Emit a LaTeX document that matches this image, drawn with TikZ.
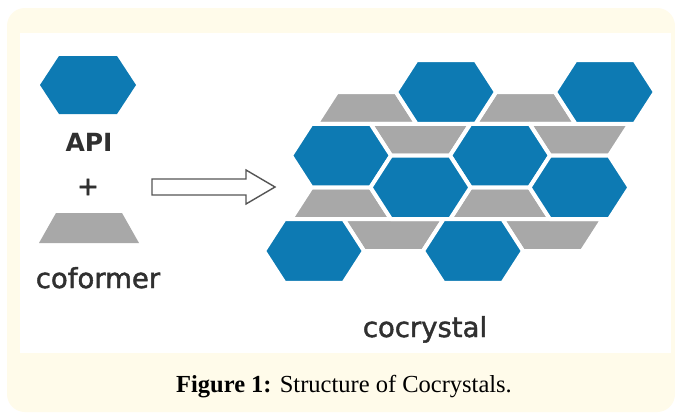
\documentclass[tikz,border=0pt]{standalone}
\usepackage{fontspec}
\setmainfont{Liberation Serif}
\newfontfamily\dejavu{DejaVu Sans}
\newfontfamily\dejavusemi[FakeBold=1.6]{DejaVu Sans}
\definecolor{hexblue}{HTML}{0D7AB3}
\definecolor{trapgray}{HTML}{A8A8A8}
\definecolor{creambg}{HTML}{FFFBEA}
\definecolor{labelgray}{HTML}{303030}
\definecolor{arrowgray}{HTML}{555555}
\newcommand\hexcell[2]{%
  \filldraw[cell, fill=hexblue] (#1-50,#2) -- (#1-29.5,#2-31.8) -- (#1+29.5,#2-31.8) -- (#1+50,#2) -- (#1+29.5,#2+31.8) -- (#1-29.5,#2+31.8) -- cycle;}
\newcommand\trapup[2]{%
  \filldraw[cell, fill=trapgray] (#1-29.5,#2) -- (#1+29.5,#2) -- (#1+50,#2+31.8) -- (#1-50,#2+31.8) -- cycle;}
\newcommand\trapdown[2]{%
  \filldraw[cell, fill=trapgray] (#1-50,#2) -- (#1+50,#2) -- (#1+29.5,#2+31.8) -- (#1-29.5,#2+31.8) -- cycle;}
\begin{document}
\begin{tikzpicture}[x=1pt, y=-1pt,
  cell/.style={draw=white, line width=4pt, line join=round},
  sanslabel/.style={font=\dejavusemi\fontsize{27.5}{30}\selectfont, text=labelgray, inner sep=0pt, anchor=base},
  blockarrow/.style={draw=arrowgray, fill=white, line width=1.4pt, line join=miter}]
\useasboundingbox (0,0) rectangle (675,413);
\fill[white] (0,0) rectangle (675,413);
\fill[creambg, rounded corners=18pt] (7,8) rectangle (675,412);
\fill[white] (20,33) rectangle (671,353);

% left: API and coformer
\fill[hexblue] (40,85) -- (59,56) -- (117,56) -- (136,85) -- (117,114) -- (59,114) -- cycle;
\node[sanslabel, font=\dejavu\bfseries\fontsize{25}{27}\selectfont] (api) at (89,151) {API};
\node[text=labelgray, font=\dejavusemi\fontsize{26}{28}\selectfont, inner sep=0pt] (plus) at (88,187) {+};
\fill[trapgray] (56,213) -- (122,213) -- (139,243) -- (39,243) -- cycle;
\node[sanslabel] (coformer) at (98,288) {coformer};

% block arrow
\coordinate (arrowtail) at (152,187);
\coordinate (arrowtip) at (275,187);
\draw[blockarrow] ([shift={(0,-8)}]arrowtail) -- ++(94,0) -- ++(0,-9) -- (arrowtip) -- ++(-29,17) -- ++(0,-9) -- ([shift={(0,8)}]arrowtail) -- cycle;

% cocrystal lattice
\trapup{366.5}{92} \trapup{525.5}{92}
\trapdown{420.5}{123.8} \trapdown{579.5}{123.8}
\trapup{341}{187.4} \trapup{500}{187.4}
\trapdown{393.5}{219.2} \trapdown{552.5}{219.2}
\hexcell{446}{92} \hexcell{605}{92}
\hexcell{341}{155.6} \hexcell{500}{155.6}
\hexcell{420.5}{187.4} \hexcell{579.5}{187.4}
\hexcell{314}{251} \hexcell{473}{251}
\node[sanslabel] (cocrystal) at (425,337) {cocrystal};

% caption
\node[font=\fontsize{24.5}{26}\selectfont, anchor=base, inner sep=0pt] (caption) at (344,392) {\textbf{Figure 1:} Structure of Cocrystals.};
\end{tikzpicture}
\end{document}
